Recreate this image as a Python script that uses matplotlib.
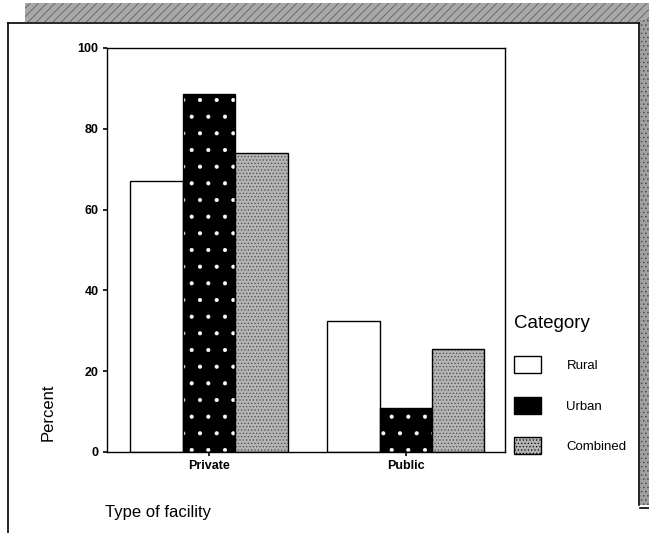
import matplotlib
matplotlib.use("Agg")
import matplotlib.pyplot as plt
from matplotlib.patches import Rectangle, Patch
from matplotlib.lines import Line2D
import numpy as np

plt.rcParams['font.family'] = ['Liberation Sans', 'DejaVu Sans']
plt.rcParams['hatch.linewidth'] = 0.5

# data
facilities = ['Private', 'Public']
categories = ['Rural', 'Urban', 'Combined']
rural = [67, 32.5]
urban = [88.6, 11]
combined = [74, 25.5]
yticks = [0, 20, 40, 60, 80, 100]

W, H = 649, 533
fig = plt.figure(figsize=(W / 100, H / 100), dpi=100)

def fx(px):
    return px / W

def fy(py):
    return 1 - py / H

# scanned page frame and grey border strips
fig.patches.append(Rectangle((fx(25), fy(22)), fx(624), 19 / H, transform=fig.transFigure,
                             facecolor='#a8a8a8', edgecolor='#555555', hatch='////', lw=0))
fig.patches.append(Rectangle((fx(640), fy(505)), fx(9), 485 / H, transform=fig.transFigure,
                             facecolor='#a0a0a0', edgecolor='#444444', hatch='....', lw=0))
fig.lines.append(Line2D([fx(8), fx(8)], [fy(23), 0], transform=fig.transFigure, color='k', lw=1.2))
fig.lines.append(Line2D([fx(8), fx(639)], [fy(23), fy(23)], transform=fig.transFigure, color='k', lw=1.2))
fig.lines.append(Line2D([fx(639), fx(639)], [fy(23), fy(505)], transform=fig.transFigure, color='k', lw=1.2))
fig.lines.append(Line2D([fx(640), fx(649)], [fy(508), fy(508)], transform=fig.transFigure, color='k', lw=1.2))

ax = fig.add_axes([fx(107), fy(452), fx(505 - 107), (452 - 48) / H])

x = np.arange(len(facilities))
w = 0.267
styles = [
    dict(facecolor='white', edgecolor='white', hatch=None),
    dict(facecolor='black', edgecolor='white', hatch='.'),
    dict(facecolor='#b4b4b4', edgecolor='#4a4a4a', hatch='.....'),
]
series = [rural, urban, combined]
for i, (vals, st) in enumerate(zip(series, styles)):
    pos = x + (i - 1) * w
    ax.bar(pos, vals, w, facecolor=st['facecolor'], edgecolor=st['edgecolor'],
           hatch=st['hatch'], linewidth=0)
    ax.bar(pos, vals, w, fill=False, edgecolor='black', linewidth=1.0)

ax.set_xlim(-0.52, 1.505)
ax.set_ylim(0, 100)
ax.set_yticks(yticks)
ax.set_yticklabels([str(t) for t in yticks], fontsize=9, fontweight='bold')
ax.set_xticks(x)
ax.set_xticklabels(facilities, fontsize=9, fontweight='bold')
ax.tick_params(axis='both', length=3, width=1.2, direction='out', pad=3)
for s in ax.spines.values():
    s.set_linewidth(1.0)

fig.text(fx(48), fy(412), 'Percent', rotation=90, fontsize=12, ha='center', va='center')
fig.text(fx(105), fy(512), 'Type of facility', fontsize=12, ha='left', va='center')

handles = [Patch(facecolor=st['facecolor'], edgecolor='black' if st['hatch'] is None else st['edgecolor'],
                 hatch=st['hatch'], linewidth=1.0) for st in styles]
leg = fig.legend(handles, categories, loc='upper left', bbox_to_anchor=(fx(509), fy(310)),
                 frameon=False, fontsize=9.5, title='Category', title_fontsize=13.5,
                 alignment='left', handlelength=2.05, handleheight=1.6,
                 handletextpad=1.9, labelspacing=1.8, borderaxespad=0)
for p in leg.get_patches():
    p.set_edgecolor('black')

fig.savefig('out.png', dpi=100)
